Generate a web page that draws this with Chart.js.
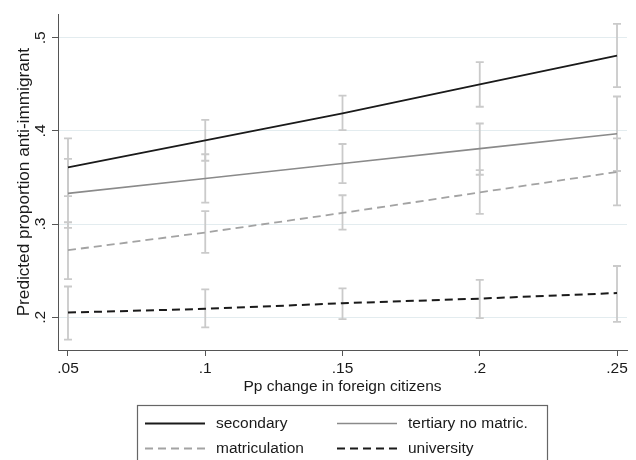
<!DOCTYPE html>
<html><head><meta charset="utf-8">
<script src="https://cdn.jsdelivr.net/npm/chart.js@4.4.0/dist/chart.umd.min.js"></script>
<style>html,body{margin:0;padding:0;background:#fff;} canvas{display:block;}</style>
</head><body>
<canvas id="c" width="636" height="460"></canvas>
<script>
// ---- data ----
const xValues = [0.05, 0.10, 0.15, 0.20, 0.25];
const xTickLabels = ['.05', '.1', '.15', '.2', '.25'];
const yTickValues = [0.2, 0.3, 0.4, 0.5];
const yTickLabels = ['.2', '.3', '.4', '.5'];
const seriesNames = ['secondary', 'tertiary no matric.', 'matriculation', 'university'];

const secondary    = [0.361, 0.390, 0.419, 0.450, 0.481];
const secondaryLo  = [0.330, 0.368, 0.401, 0.426, 0.447];
const secondaryHi  = [0.392, 0.412, 0.438, 0.474, 0.515];

const tertiary     = [0.333, 0.349, 0.365, 0.381, 0.397];
const tertiaryLo   = [0.296, 0.323, 0.344, 0.353, 0.357];
const tertiaryHi   = [0.370, 0.375, 0.386, 0.408, 0.437];

const matric       = [0.272, 0.291, 0.312, 0.334, 0.356];
const matricLo     = [0.241, 0.269, 0.294, 0.311, 0.320];
const matricHi     = [0.302, 0.314, 0.331, 0.358, 0.392];

const university   = [0.205, 0.209, 0.215, 0.220, 0.226];
const universityLo = [0.176, 0.189, 0.198, 0.199, 0.195];
const universityHi = [0.233, 0.230, 0.231, 0.240, 0.255];

const ciLows  = [secondaryLo, tertiaryLo, matricLo, universityLo];
const ciHighs = [secondaryHi, tertiaryHi, matricHi, universityHi];

// ---- styling ----
const FAMILY = '"Liberation Sans", Arial, Helvetica, sans-serif';
const TEXT = '#1a1a1a';
const AXIS = '#555555';
const FS = 15.5;

function pts(vals) { return xValues.map((x, i) => ({ x: x, y: vals[i] })); }

const errorBarPlugin = {
  id: 'errorBars',
  beforeDatasetsDraw(chart) {
    const { ctx } = chart;
    const xs = chart.scales.x, ys = chart.scales.y;
    ctx.save();
    ctx.strokeStyle = '#cacaca';
    ctx.lineWidth = 1.8;
    ctx.setLineDash([]);
    ciLows.forEach((lows, s) => {
      lows.forEach((lo, i) => {
        const px = xs.getPixelForValue(xValues[i]);
        const pl = ys.getPixelForValue(lo);
        const ph = ys.getPixelForValue(ciHighs[s][i]);
        ctx.beginPath();
        ctx.moveTo(px, pl); ctx.lineTo(px, ph);
        ctx.moveTo(px - 4, pl); ctx.lineTo(px + 4, pl);
        ctx.moveTo(px - 4, ph); ctx.lineTo(px + 4, ph);
        ctx.stroke();
      });
    });
    ctx.restore();
  }
};

const legendPlugin = {
  id: 'boxLegend',
  afterDraw(chart) {
    const { ctx } = chart;
    ctx.save();
    ctx.strokeStyle = '#666';
    ctx.lineWidth = 1.2;
    ctx.setLineDash([]);
    ctx.strokeRect(137.5, 405.5, 410, 70);
    const cols = [145, 337];
    const rows = [423.5, 448.5];
    chart.data.datasets.forEach((ds, i) => {
      const cx = cols[i % 2], cy = rows[Math.floor(i / 2)];
      ctx.beginPath();
      ctx.strokeStyle = ds.borderColor;
      ctx.lineWidth = ds.borderWidth;
      ctx.setLineDash(ds.borderDash || []);
      ctx.moveTo(cx, cy); ctx.lineTo(cx + 60, cy);
      ctx.stroke();
      ctx.setLineDash([]);
      ctx.fillStyle = TEXT;
      ctx.font = FS + 'px ' + FAMILY;
      ctx.textBaseline = 'middle';
      ctx.textAlign = 'left';
      ctx.fillText(ds.label, cx + 71, cy);
    });
    ctx.restore();
  }
};

new Chart(document.getElementById('c'), {
  type: 'line',
  data: {
    datasets: [
      { label: seriesNames[0], data: pts(secondary),  borderColor: '#1a1a1a', borderWidth: 1.8, borderDash: [] },
      { label: seriesNames[1], data: pts(tertiary),   borderColor: '#8a8a8a', borderWidth: 1.6, borderDash: [] },
      { label: seriesNames[2], data: pts(matric),     borderColor: '#a3a3a3', borderWidth: 1.8, borderDash: [8, 5] },
      { label: seriesNames[3], data: pts(university), borderColor: '#1a1a1a', borderWidth: 2,   borderDash: [8, 5] }
    ]
  },
  options: {
    responsive: false,
    animation: false,
    devicePixelRatio: 1,
    layout: { padding: { left: 0, right: 9, top: 12, bottom: 60 } },
    plugins: { legend: { display: false }, tooltip: { enabled: false } },
    elements: { point: { radius: 0, hoverRadius: 0 }, line: { tension: 0, fill: false } },
    scales: {
      x: {
        type: 'linear',
        min: 0.04636, max: 0.25364,
        afterBuildTicks: s => { s.ticks = xValues.map(v => ({ value: v })); },
        afterFit: s => { s.height = 50; },
        ticks: {
          callback: (v, i) => xTickLabels[i],
          font: { family: FAMILY, size: FS }, color: TEXT,
          padding: 3, maxRotation: 0, minRotation: 0, autoSkip: false
        },
        grid: { display: true, drawOnChartArea: false, drawTicks: true, tickLength: 6, tickColor: AXIS, tickWidth: 1 },
        border: { display: true, color: AXIS, width: 1 },
        title: { display: true, text: 'Pp change in foreign citizens', color: TEXT,
                 font: { family: FAMILY, size: FS, lineHeight: 1.2 }, padding: { top: 0, bottom: 4.4 } }
      },
      y: {
        type: 'linear',
        min: 0.16481, max: 0.52527,
        afterBuildTicks: s => { s.ticks = yTickValues.map(v => ({ value: v })); },
        afterFit: s => { s.width = 58; },
        ticks: {
          callback: (v, i) => yTickLabels[i],
          font: { family: FAMILY, size: FS }, color: TEXT,
          padding: 5, minRotation: 90, maxRotation: 90, crossAlign: 'center', autoSkip: false
        },
        grid: { display: true, drawOnChartArea: true, drawTicks: true, tickLength: 6, color: '#e3ecef', tickColor: AXIS, lineWidth: 1 },
        border: { display: true, color: AXIS, width: 1 },
        title: { display: true, text: 'Predicted proportion anti-immigrant', color: TEXT,
                 font: { family: FAMILY, size: 17.2, lineHeight: 1.2 }, padding: { top: 14, bottom: 0 } }
      }
    }
  },
  plugins: [errorBarPlugin, legendPlugin]
});
</script>
</body></html>
